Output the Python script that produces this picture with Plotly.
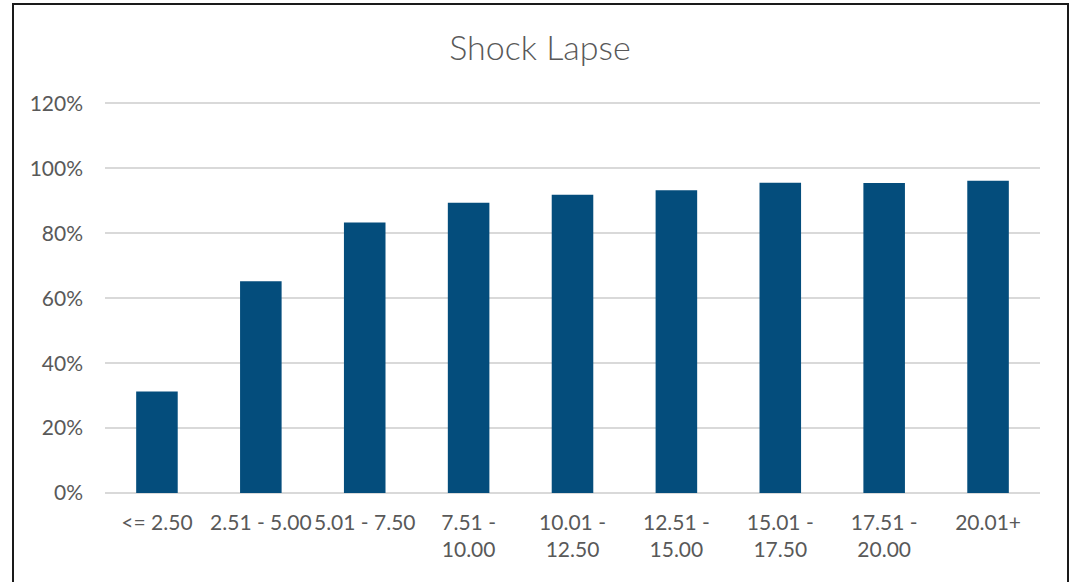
import plotly.graph_objects as go

# Shock lapse rate by band
categories = ["<= 2.50", "2.51 - 5.00", "5.01 - 7.50", "7.51 - 10.00", "10.01 - 12.50",
              "12.51 - 15.00", "15.01 - 17.50", "17.51 - 20.00", "20.01+"]
tick_labels = ["&lt;= 2.50", "2.51 - 5.00", "5.01 - 7.50", "7.51 -<br>10.00", "10.01 -<br>12.50",
               "12.51 -<br>15.00", "15.01 -<br>17.50", "17.51 -<br>20.00", "20.01+"]
shock_lapse = [0.313, 0.652, 0.833, 0.894, 0.919, 0.933, 0.956, 0.955, 0.962]
y_ticks = [0, 0.2, 0.4, 0.6, 0.8, 1.0, 1.2]
y_tick_labels = ["0%", "20%", "40%", "60%", "80%", "100%", "120%"]

BAR = "#044D7C"
TEXT = "#595959"
GRID = "#D9D9D9"
FONT = "Lato"

W, H = 1070, 582
Y_MAX = 1.22  # a little headroom so the 120% gridline is drawn
ML, MR, MT, MB = 105, 30, 97, 89
pw, ph = W - ML - MR, H - MT - MB

fig = go.Figure(go.Bar(
    x=categories, y=shock_lapse,
    marker=dict(color=BAR, line=dict(width=0)),
))

# outer chart frame, in pixel positions converted to paper units
def px_x(px):
    return (px - ML) / pw

def px_y(py):
    return (H - MB - py) / ph

fig.add_shape(type="rect", xref="paper", yref="paper",
              x0=px_x(13), x1=px_x(1068), y0=px_y(600), y1=px_y(4),
              line=dict(color="#1A1A1A", width=2), fillcolor="rgba(0,0,0,0)", layer="above")

fig.update_layout(
    width=W, height=H,
    margin=dict(l=ML, r=MR, t=MT, b=MB, pad=0),
    paper_bgcolor="white", plot_bgcolor="white",
    bargap=0.6,
    showlegend=False,
    title=dict(text="Shock Lapse", x=540 / W, xanchor="center", xref="container",
               y=1 - 48 / H, yanchor="middle", yref="container",
               font=dict(family=FONT, size=34, color=TEXT, weight=300)),
    font=dict(family=FONT, size=21, color=TEXT),
    xaxis=dict(tickvals=categories, ticktext=tick_labels, showgrid=False, showline=False,
               ticks="", ticklabelstandoff=15, tickfont=dict(family=FONT, size=21, color=TEXT)),
    yaxis=dict(range=[0, Y_MAX], tickvals=y_ticks, ticktext=y_tick_labels,
               showgrid=True, gridcolor=GRID, gridwidth=1.5, zeroline=True, zerolinecolor=GRID,
               zerolinewidth=1.5, showline=False, ticks="", ticklabelstandoff=21,
               tickfont=dict(family=FONT, size=21, color=TEXT)),
)

fig.write_html("out.html")
